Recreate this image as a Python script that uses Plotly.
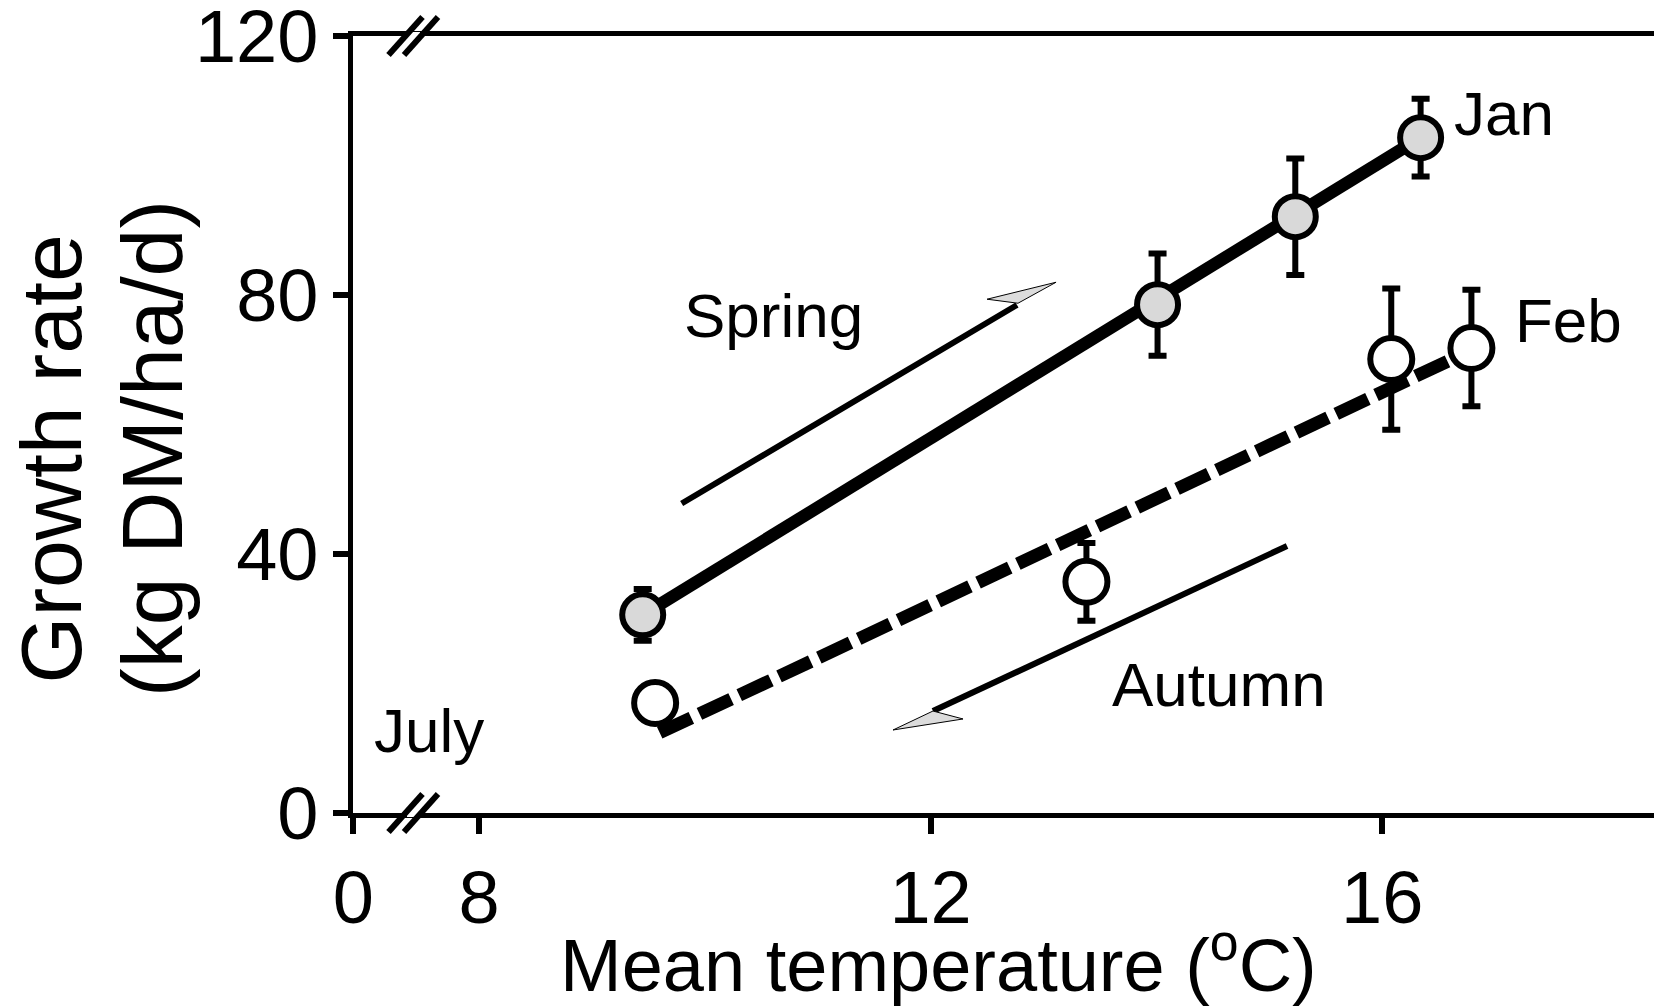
import plotly.graph_objects as go

FONT = "Liberation Sans, Arial, Helvetica, sans-serif"

# ---------------- data ----------------
spring_temp = [9.45, 14.01, 15.23, 16.34]
spring_growth = [30.6, 78.5, 92.1, 104.3]
spring_err = [4.0, 7.9, 9.0, 6.0]

autumn_temp = [9.56, 13.38, 16.08, 16.79]
autumn_growth = [17.0, 35.7, 70.1, 71.8]
autumn_err = [0.0, 6.0, 10.9, 9.0]

spring_fit_temp = [9.45, 16.34]
spring_fit_growth = [30.6, 104.3]
autumn_fit_temp = [9.60, 16.79]
autumn_fit_growth = [12.4, 71.5]

y_tick_vals = [0, 40, 80, 120]
x_tick_vals = [6.886, 8, 12, 16]
x_tick_text = ["0", "8", "12", "16"]

x_range = [6.884, 18.478]
y_range = [0, 120]

# arrows (data space): shaft start, shaft end, head vertices
spring_arrow_shaft = [(9.795, 47.80), (12.765, 78.46)]
spring_arrow_head = [(12.500, 79.35), (13.111, 81.97), (12.774, 78.73)]
autumn_arrow_shaft = [(15.157, 41.24), (12.021, 15.75)]
autumn_arrow_head = [(12.021, 15.75), (11.667, 12.82), (12.287, 14.52)]

labels = [
    ("Spring", 10.61, 76.9),
    ("Autumn", 14.55, 19.8),
    ("July", 7.56, 12.7),
    ("Jan", 17.08, 108.1),
    ("Feb", 17.65, 76.1),
]

# ---------------- layout geometry ----------------
# the page body has an 8px default margin, compensate for it
OFF = 8
W, H = 1662 - OFF, 1006 - OFF
ML, MR, MT, MB = 353 - OFF, 0, 36 - OFF, 1006 - 813
PW, PH = W - ML - MR, H - MT - MB


def px2paper(px, py):
    # px, py are window pixel positions
    return (px - OFF - ML) / PW, (H - MB - (py - OFF)) / PH


fig = go.Figure()

fig.add_trace(go.Scatter(
    x=spring_fit_temp, y=spring_fit_growth, mode="lines",
    line=dict(color="black", width=12.5), hoverinfo="skip", showlegend=False))
fig.add_trace(go.Scatter(
    x=autumn_fit_temp, y=autumn_fit_growth, mode="lines",
    line=dict(color="black", width=13, dash="35px,9px"), hoverinfo="skip",
    showlegend=False))

fig.add_trace(go.Scatter(
    x=spring_temp, y=spring_growth, mode="markers",
    marker=dict(symbol="circle", size=41, color="#d9d9d9",
                line=dict(color="black", width=6)),
    error_y=dict(type="data", array=spring_err, visible=True, color="black",
                 thickness=6, width=9),
    showlegend=False))
fig.add_trace(go.Scatter(
    x=autumn_temp, y=autumn_growth, mode="markers",
    marker=dict(symbol="circle", size=42, color="white",
                line=dict(color="black", width=6)),
    error_y=dict(type="data", array=autumn_err, visible=True, color="black",
                 thickness=6, width=9),
    showlegend=False))

shapes = []
for shaft, head in [(spring_arrow_shaft, spring_arrow_head),
                    (autumn_arrow_shaft, autumn_arrow_head)]:
    shapes.append(dict(type="line", xref="x", yref="y",
                       x0=shaft[0][0], y0=shaft[0][1], x1=shaft[1][0], y1=shaft[1][1],
                       line=dict(color="black", width=6), layer="above"))
    path = "M {} {} L {} {} L {} {} Z".format(head[0][0], head[0][1], head[1][0],
                                             head[1][1], head[2][0], head[2][1])
    shapes.append(dict(type="path", xref="x", yref="y", path=path,
                       fillcolor="#dcdcdc", line=dict(color="black", width=1),
                       layer="above"))

# axis break marks on the x axis (top and bottom)
for cy in (36, 813):
    a = px2paper(407, cy)
    b = px2paper(420, cy)
    shapes.append(dict(type="line", xref="paper", yref="paper",
                       x0=a[0], y0=a[1], x1=b[0], y1=b[1],
                       line=dict(color="white", width=8), layer="above"))
    for cx in (405.5, 421):
        p0 = px2paper(cx - 17, cy + 19)
        p1 = px2paper(cx + 17, cy - 19)
        shapes.append(dict(type="line", xref="paper", yref="paper",
                           x0=p0[0], y0=p0[1], x1=p1[0], y1=p1[1],
                           line=dict(color="black", width=6), layer="above"))

annotations = []
for text, x, y in labels:
    annotations.append(dict(text=text, x=x, y=y, xref="x", yref="y",
                            showarrow=False, xanchor="center", yanchor="middle",
                            font=dict(family=FONT, size=62, color="black")))

# axis titles
ax1 = px2paper(50, 459.5)
annotations.append(dict(text="Growth rate", x=ax1[0], y=ax1[1], xref="paper",
                        yref="paper", textangle=-90, showarrow=False,
                        xanchor="center", yanchor="middle",
                        font=dict(family=FONT, size=86, color="black")))
ax2 = px2paper(152, 449)
annotations.append(dict(text="(kg DM/ha/d)", x=ax2[0], y=ax2[1], xref="paper",
                        yref="paper", textangle=-90, showarrow=False,
                        xanchor="center", yanchor="middle",
                        font=dict(family=FONT, size=86, color="black")))
xt = px2paper(938, 1009)
annotations.append(dict(text="Mean temperature (<sup>o</sup>C)", x=xt[0], y=xt[1],
                        xref="paper", yref="paper", showarrow=False,
                        xanchor="center", yanchor="bottom",
                        font=dict(family=FONT, size=74, color="black")))

fig.update_layout(
    width=W, height=H, autosize=False,
    margin=dict(l=ML, r=MR, t=MT, b=MB, pad=0, autoexpand=False),
    paper_bgcolor="white", plot_bgcolor="white",
    font=dict(family=FONT, color="black"),
    shapes=shapes, annotations=annotations,
    xaxis=dict(range=x_range, showgrid=False, zeroline=False, showline=True,
               automargin=False,
               linecolor="black", linewidth=4.5, mirror=True,
               ticks="outside", ticklen=16, tickwidth=6, tickcolor="black",
               tickmode="array", tickvals=x_tick_vals, ticktext=x_tick_text,
               ticklabeloverflow="allow",
               tickfont=dict(family=FONT, size=74, color="black")),
    yaxis=dict(range=y_range, showgrid=False, zeroline=False, showline=True,
               automargin=False,
               linecolor="black", linewidth=4.5,
               ticks="outside", ticklen=15, tickwidth=6, tickcolor="black",
               tickmode="array", tickvals=y_tick_vals, ticklabeloverflow="allow",
               tickfont=dict(family=FONT, size=74, color="black")),
)

fig.write_html("out.html")
